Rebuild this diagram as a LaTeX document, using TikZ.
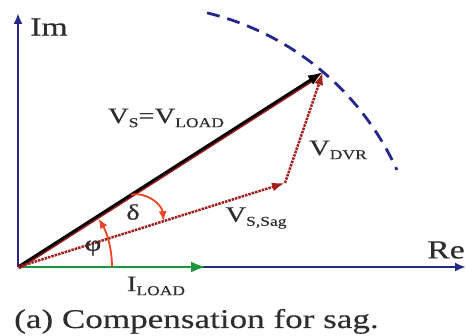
\documentclass[tikz,border=0pt]{standalone}
\usepackage{fontspec}
\setmainfont[FakeStretch=1.3, FakeBold=0.3]{Liberation Serif}
\usepackage{tikz}
\usetikzlibrary{arrows.meta,calc}
\definecolor{axblue}{RGB}{36,40,140}
\definecolor{ldgreen}{RGB}{30,150,60}
\definecolor{dkred}{RGB}{165,30,30}
\definecolor{angred}{RGB}{238,66,36}
\definecolor{txt}{RGB}{45,45,45}
\newcommand{\sbs}[1]{\raisebox{-0.4ex}{\fontsize{13.5}{15}\selectfont #1}}
\tikzset{
  axis/.style={draw=axblue, line width=2.4pt, -{Latex[length=11pt,width=9pt]}},
  cur/.style={draw=ldgreen, line width=2.8pt, -{Latex[length=15pt,width=11pt]}},
  vsrc/.style={draw=black, line width=2.8pt, -{Latex[length=15pt,width=11pt]}},
  vred/.style={draw=dkred, line width=2.5pt, dash pattern=on 2.5pt off 1pt, -{Latex[length=13pt,width=9pt]}},
  ang/.style={draw=angred, line width=1.8pt, -{Latex[length=10pt,width=8pt]}},
  lbl/.style={font=\fontsize{22}{25}\selectfont, text=txt, inner sep=1pt},
  big/.style={font=\fontsize{26}{30}\selectfont, text=txt, inner sep=1pt},
  dasharc/.style={draw=axblue, line width=2.8pt, dash pattern=on 13pt off 8pt}
}
\begin{document}
\begin{tikzpicture}[x=1pt,y=1pt]
\useasboundingbox (0,0) rectangle (467,336);
\coordinate (O) at (18,69);
\coordinate (imtop) at (18,323);
\coordinate (retip) at (466,69);
\coordinate (iload) at (206,69);
\coordinate (vs) at (323,264);
\coordinate (sag) at (285,153);
\coordinate (ctr) at (141,50);
\draw[dasharc] (ctr) ++(76.4:281) arc[start angle=76.4, end angle=24.4, radius=281];
\draw[axis] (O) -- (imtop);
\draw[axis] (O) -- (retip);
\draw[cur] (O) -- (iload);
\draw[dkred, line width=3.6pt, shorten >=12pt] ($(O)+(0.8,-0.8)$) -- ($(vs)+(0.8,-0.8)$);
\draw[vsrc] (O) -- (vs);
\draw[vred] (O) -- (sag);
\draw[vred] (sag) -- (vs);
\draw[ang] (O) ++(0:94) arc[start angle=0, end angle=31, radius=94];
\coordinate (ds) at ($(O)!0.37!(vs)$);
\coordinate (de) at ($(O)!0.545!(sag)$);
\draw[ang] (ds) to[out=12, in=95] (de);
\node[big, anchor=west] (im) at (29,309) {Im};
\node[big] (re) at (446,86) {Re};
\node[lbl] (il) at (156,50) {I\sbs{LOAD}};
\node[lbl] (vsl) at (166,218) {V\sbs{S}=V\sbs{LOAD}};
\node[lbl] (vsag) at (256,118) {V\sbs{S,Sag}};
\node[lbl] (vdvr) at (338,186) {V\sbs{DVR}};
\node[lbl] (dl) at (133,124) {δ};
\node[lbl] (pl) at (93,88) {φ};
\node[big, anchor=base west, font=\fontsize{27}{30}\selectfont] (cap) at (13,8) {(a) Compensation for sag.};
\end{tikzpicture}
\end{document}
